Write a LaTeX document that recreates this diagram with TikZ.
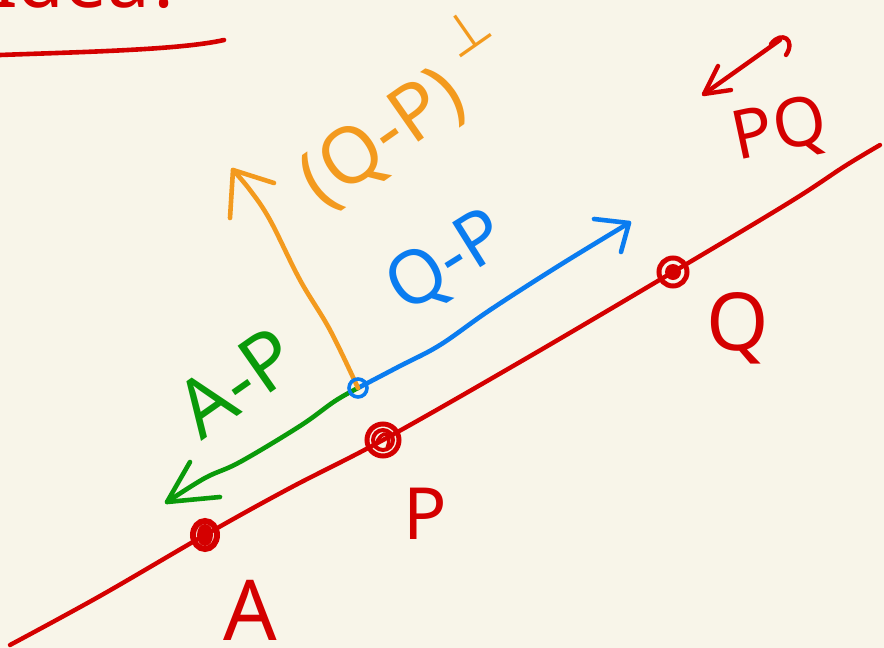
\documentclass[tikz,border=0pt]{standalone}
\usepackage{fontspec}
\setmainfont{Noto Sans}
\newfontfamily\symfont{DejaVu Sans}
\usetikzlibrary{calc}
\definecolor{bg}{HTML}{F8F5E9}
\definecolor{redink}{HTML}{D40000}
\definecolor{greenink}{HTML}{0A9A0A}
\definecolor{blueink}{HTML}{0A7CF0}
\definecolor{orangeink}{HTML}{F39A1E}
\tikzset{
  ink/.style={line width=4.6pt, line cap=round, line join=round},
  lbl/.style={inner sep=0pt, font=\fontsize{76}{86}\selectfont},
  dotring/.style={line width=6pt, draw=redink},
}
\begin{document}
\begin{tikzpicture}[x=1pt,y=-1pt]
\useasboundingbox (0,0) rectangle (884,648);
\fill[bg] (0,0) rectangle (884,648);

% title fragment (cut off at the top)
\node[lbl, text=redink, anchor=base west] (title) at (-8,7) {Idea?};
\coordinate (u1) at (0,55);
\coordinate (u2) at (224,40);
\draw[ink, redink] (u1) .. controls (80,52) and (180,50) .. (u2);

% points on the line
\coordinate (A) at (205,535);
\coordinate (P) at (383,440);
\coordinate (Q) at (673,272);
\coordinate (L0) at (10,645);
\coordinate (L1) at (880,145);
\draw[ink, redink, line width=4.4pt] plot[smooth, tension=0.6] coordinates {(L0) (100,596) (A) (290,488) (P) (520,362) (Q) (790,202) (845,166) (L1)};

\draw[dotring] (A) ellipse (12 and 14);
\fill[redink] (A) ellipse (8 and 11);
\draw[dotring, line width=5pt] (P) circle (16);
\draw[dotring, line width=4pt] (P) circle (10);
\draw[redink, line width=3.5pt] ($(P)+(-8,6)$) .. controls ($(P)+(0,-14)$) and ($(P)+(10,-6)$) .. ($(P)+(4,8)$);
\draw[dotring, line width=5pt] (Q) circle (14);
\fill[redink] (Q) circle (8);

% labels of the points
\node[lbl, text=redink, font=\fontsize{84}{90}\selectfont] (lA) at (250,610) {A};
\node[lbl, text=redink, font=\fontsize{72}{80}\selectfont] (lP) at (425,514) {P};
\node[lbl, text=redink, font=\fontsize{80}{86}\selectfont] (lQ) at (738,328) {Q};
\node[lbl, text=redink, font=\fontsize{68}{72}\selectfont, rotate=12] (lPQ) at (780,132) {PQ};

% double arrow PQ
\coordinate (d1) at (704,94);
\coordinate (d2) at (780,40);
\draw[ink, redink, line width=4.4pt] (d1) -- (d2);
\draw[ink, redink, line width=4.4pt] (718,66) -- (d1) -- (731,90);
\draw[ink, redink, line width=4.4pt] (771,44) .. controls (782,30) and (796,40) .. (786,55);

% base point on the vectors
\coordinate (B) at (358,388);

% blue arrow Q-P
\coordinate (bt) at (629,223);
\draw[ink, blueink] plot[smooth, tension=0.6] coordinates {(B) (400,366) (440,345) (490,310) (560,265) (bt)};
\draw[ink, blueink] (594,219) -- (bt) -- (621,252);
\node[lbl, text=blueink, font=\fontsize{74}{80}\selectfont, rotate=32] (lQP) at (448,264) {Q-P};

% green arrow A-P
\coordinate (gt) at (167,502);
\draw[ink, greenink] plot[smooth, tension=0.6] coordinates {(B) (335,401) (300,426) (240,462) (205,478) (gt)};
\draw[ink, greenink] (190,462) -- (gt) -- (220,497);
\node[lbl, text=greenink, font=\fontsize{80}{90}\selectfont, rotate=35] (lAP) at (236,382) {A-P};

% orange arrow (Q-P) perp
\coordinate (ot) at (233,170);
\draw[ink, orangeink] plot[smooth, tension=0.6] coordinates {(B) (330,330) (300,280) (270,220) (250,190) (ot)};
\draw[ink, orangeink] (230,218) -- (ot) -- (274,183);
\node[lbl, text=orangeink, font=\fontsize{78}{86}\selectfont, rotate=35] (lperp) at (384,140) {(Q-P)};
\node[lbl, text=orangeink, font=\symfont\fontsize{54}{60}\selectfont, rotate=35] (perp) at (466,32) {⊥};

\draw[line width=3.6pt, blueink] (B) circle (9);
\end{tikzpicture}
\end{document}
